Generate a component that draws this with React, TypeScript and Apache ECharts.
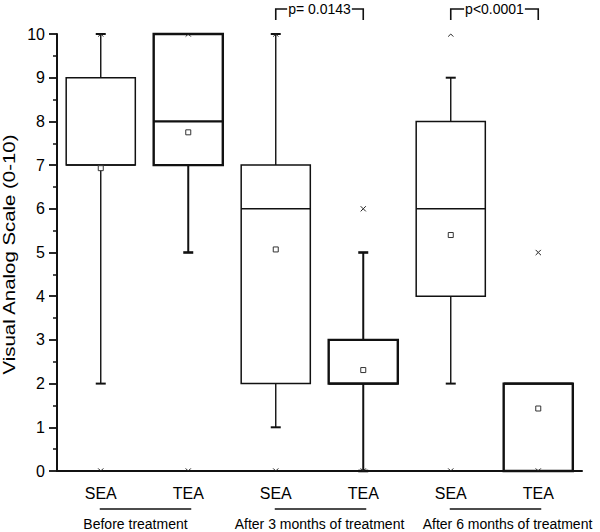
import React, { useEffect, useRef } from "react";
import * as echarts from "echarts";

const categories = ["SEA", "TEA", "SEA", "TEA", "SEA", "TEA"];
const groupLabels = ["Before treatment", "After 3 months of treatment", "After 6 months of treatment"];
const whiskerLow: (number | null)[] = [2, 5, 1, 0, 2, null];
const q1 = [7, 7, 2, 2, 4, 0];
const median = [7, 8, 6, 2, 6, 2];
const q3 = [9, 10, 7, 3, 8, 2];
const whiskerHigh: (number | null)[] = [10, null, 10, 5, 9, null];
const means = [6.93, 7.75, 5.07, 2.31, 5.4, 1.43];
const minMarks = [0, 0, 0, 0, 0, 0];
const maxMarks = [10, 10, 10, 6, 10, 5];
const thickBox = [false, true, false, true, false, true];
const pLabels = ["p= 0.0143", "p<0.0001"];
const pPairs = [[2, 3], [4, 5]];
const yTicks = [0, 10, 1];

const FONT = "'Liberation Sans', Arial, Helvetica, sans-serif";
const INK = "#111";

export default function App() {
  const ref = useRef<HTMLDivElement>(null);
  useEffect(() => {
    if (!ref.current) return;
    const chart = echarts.init(ref.current, null, { renderer: "svg" });
    const boxData = categories.map((_, i) => [i, q1[i], median[i], q3[i], means[i]]);
    const markData: number[][] = [];
    categories.forEach((_, i) => {
      markData.push([i, minMarks[i]]);
      markData.push([i, maxMarks[i]]);
    });
    chart.setOption({
      animation: false,
      backgroundColor: "#fff",
      textStyle: { fontFamily: FONT },
      grid: { left: 57, right: 18, top: 34, bottom: 61 },
      xAxis: {
        type: "category",
        data: categories,
        boundaryGap: true,
        axisLine: { lineStyle: { color: INK, width: 2 } },
        axisTick: { alignWithLabel: true, length: 8, lineStyle: { color: INK, width: 1.8 } },
        axisLabel: { color: "#000", fontSize: 16, margin: 14, fontFamily: FONT },
        splitLine: { show: false },
      },
      yAxis: {
        type: "value",
        min: yTicks[0],
        max: yTicks[1],
        interval: yTicks[2],
        axisLine: { show: true, lineStyle: { color: INK, width: 2 } },
        axisTick: { show: true, length: 8, lineStyle: { color: INK, width: 1.8 } },
        minorTick: { show: true, splitNumber: 2, length: 4, lineStyle: { color: INK, width: 1.5 } },
        axisLabel: { color: "#000", fontSize: 16, margin: 12, fontFamily: FONT },
        splitLine: { show: false },
      },
      series: [
        {
          type: "custom",
          clip: false,
          data: boxData,
          encode: { x: 0, y: [1, 2, 3, 4] },
          renderItem: (params: any, api: any) => {
            const idx = params.dataIndex;
            const i = api.value(0);
            const cx = api.coord([i, 0])[0];
            const band = api.size([1, 0])[0];
            const bw = band * 0.79;
            const yy = (v: number) => api.coord([i, v])[1];
            const lw = thickBox[idx] ? 2.4 : 1.5;
            const wl = thickBox[idx] ? 2 : 1.4;
            const capW = 10;
            const kids: any[] = [];
            const st = { stroke: INK, lineWidth: wl, fill: "none" };
            const hi = whiskerHigh[idx];
            if (hi !== null && hi > q3[idx]) {
              kids.push({ type: "line", shape: { x1: cx, y1: yy(q3[idx]), x2: cx, y2: yy(hi) }, style: st });
              kids.push({ type: "line", shape: { x1: cx - capW / 2, y1: yy(hi), x2: cx + capW / 2, y2: yy(hi) }, style: { ...st, lineWidth: wl + 0.6 } });
            }
            const lo = whiskerLow[idx];
            if (lo !== null && lo < q1[idx]) {
              kids.push({ type: "line", shape: { x1: cx, y1: yy(q1[idx]), x2: cx, y2: yy(lo) }, style: st });
              kids.push({ type: "line", shape: { x1: cx - capW / 2, y1: yy(lo), x2: cx + capW / 2, y2: yy(lo) }, style: { ...st, lineWidth: wl + 0.6 } });
            }
            const yTop = yy(q3[idx]);
            const yBot = yy(q1[idx]);
            kids.push({
              type: "rect",
              shape: { x: cx - bw / 2, y: yTop, width: bw, height: yBot - yTop },
              style: { stroke: INK, lineWidth: lw, fill: "#fff" },
            });
            const ym = yy(median[idx]);
            kids.push({ type: "line", shape: { x1: cx - bw / 2, y1: ym, x2: cx + bw / 2, y2: ym }, style: { stroke: INK, lineWidth: lw } });
            const ymean = yy(means[idx]);
            kids.push({
              type: "rect",
              shape: { x: cx - 2.5, y: ymean - 2.5, width: 5, height: 5 },
              style: { stroke: "#333", lineWidth: 1, fill: "#fff" },
            });
            return { type: "group", children: kids };
          },
        },
        {
          type: "custom",
          clip: false,
          data: markData,
          encode: { x: 0, y: 1 },
          z: 3,
          renderItem: (params: any, api: any) => {
            const v = api.value(1);
            const p = api.coord([api.value(0), v]);
            const s = 2.6;
            const st = { stroke: "#222", lineWidth: 1 };
            const atMin = v <= yTicks[0];
            const atMax = v >= yTicks[1];
            const topY = atMin ? p[1] - s : atMax ? p[1] : p[1] - s;
            const botY = atMax ? p[1] + s : atMin ? p[1] : p[1] + s;
            const kids: any[] = [];
            if (!atMax) {
              kids.push({ type: "line", shape: { x1: p[0] - s, y1: p[1] - s, x2: p[0], y2: p[1] }, style: st });
              kids.push({ type: "line", shape: { x1: p[0] + s, y1: p[1] - s, x2: p[0], y2: p[1] }, style: st });
            }
            if (!atMin) {
              kids.push({ type: "line", shape: { x1: p[0] - s, y1: p[1] + s, x2: p[0], y2: p[1] }, style: st });
              kids.push({ type: "line", shape: { x1: p[0] + s, y1: p[1] + s, x2: p[0], y2: p[1] }, style: st });
            }
            void topY; void botY;
            return { type: "group", children: kids };
          },
        },
      ],
    });

    const px = (i: number, v: number) => chart.convertToPixel({ gridIndex: 0 }, [i, v]) as number[];
    const graphics: any[] = [];
    const gTop = px(0, 10)[1];
    const gBot = px(0, 0)[1];
    graphics.push({
      type: "text",
      x: 9,
      y: (gTop + gBot) / 2 + 2,
      rotation: Math.PI / 2,
      scaleX: 1.2,
      style: {
        text: "Visual Analog Scale (0-10)",
        fontSize: 17,
        fontFamily: FONT,
        fill: "#000",
        align: "center",
        verticalAlign: "middle",
      },
    });
    const groupOffsets = [-9, 0, 13];
    groupLabels.forEach((label, g) => {
      const xa = px(g * 2, 0)[0];
      const xb = px(g * 2 + 1, 0)[0];
      const yLine = gBot + 38;
      graphics.push({
        type: "line",
        shape: { x1: xa - 1, y1: yLine, x2: xb + 3, y2: yLine },
        style: { stroke: INK, lineWidth: 1.3 },
      });
      graphics.push({
        type: "text",
        x: (xa + xb) / 2 + groupOffsets[g],
        y: gBot + 53,
        style: {
          text: label,
          fontSize: 14,
          fontFamily: FONT,
          fill: "#000",
          align: "center",
          verticalAlign: "middle",
        },
      });
    });
    pPairs.forEach((pair, k) => {
      const xa = px(pair[0], 0)[0];
      const xb = px(pair[1], 0)[0];
      const yT = 9;
      const yB = 20;
      graphics.push({
        type: "polyline",
        shape: { points: [[xa, yB], [xa, yT], [xb, yT], [xb, yB]] },
        style: { stroke: INK, lineWidth: 1.6, fill: "none" },
      });
      graphics.push({
        type: "text",
        x: (xa + xb) / 2,
        y: yT,
        z: 10,
        style: {
          text: pLabels[k],
          fontSize: 14,
          fontFamily: FONT,
          fill: "#000",
          align: "center",
          verticalAlign: "middle",
          backgroundColor: "#fff",
          padding: [0, 1],
        },
      });
    });
    chart.setOption({ graphic: graphics });
    return () => chart.dispose();
  }, []);
  return <div ref={ref} style={{ position: "fixed", left: 0, top: 0, width: 600, height: 532 }} />;
}
